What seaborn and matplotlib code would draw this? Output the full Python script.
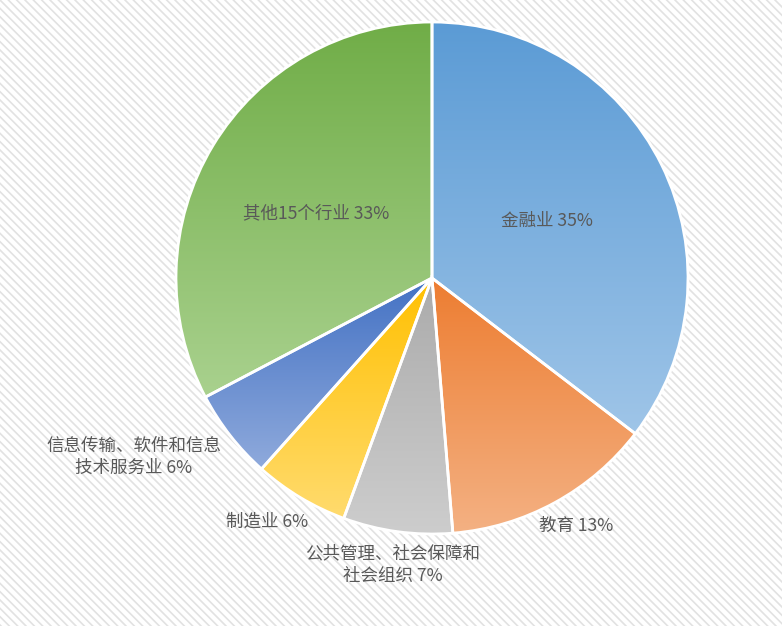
import numpy as np
import matplotlib
matplotlib.use("Agg")
import matplotlib.pyplot as plt
from matplotlib.colors import LinearSegmentedColormap
from matplotlib.patches import Rectangle
import seaborn as sns

# data (start at 12 o'clock, clockwise)
categories = ["金融业", "教育", "公共管理、社会保障和\n社会组织", "制造业",
              "信息传输、软件和信息\n技术服务业", "其他15个行业"]
shares = [35.4, 13.3, 6.9, 6.0, 5.7, 32.7]
pct_labels = ["35%", "13%", "7%", "6%", "6%", "33%"]

# gradient colours per slice (top, bottom)
top_colors = ["#5B9BD5", "#ED7D31", "#ABABAB", "#FFC000", "#4472C4", "#70AD47"]
bottom_colors = ["#9FC5E8", "#F4B183", "#CDCDCD", "#FFDB6E", "#8FAADC", "#A9D18E"]

# label placement: radial distance (x radius) and small angle nudge (deg)
label_dist = [0.50, 1.12, 1.13, 1.15, 1.36, 0.52]
label_nudge = [0, 1.5, 0, -3, -7, 2]

sns.set_style("white")
plt.rcParams["font.family"] = ["Noto Sans CJK SC", "DejaVu Sans"]
plt.rcParams["hatch.linewidth"] = 1.2

W, H = 782, 626
fig = plt.figure(figsize=(W / 100, H / 100), dpi=100)
fig.patch.set_facecolor("white")
fig.patches.append(Rectangle((0, 0), 1, 1, transform=fig.transFigure,
                             facecolor="white", edgecolor="#E2E2E2",
                             hatch="\\\\\\\\", linewidth=0, zorder=-5))

cx, cy, R = 432, 278, 256
ax = fig.add_axes([(cx - R) / W, (H - cy - R) / H, 2 * R / W, 2 * R / H])
ax.patch.set_visible(False)

wedges, _ = ax.pie(shares, startangle=90, counterclock=False, radius=1,
                   wedgeprops=dict(edgecolor="white", linewidth=2, facecolor="none"))

grad = np.linspace(0, 1, 256).reshape(-1, 1)
for w, c0, c1 in zip(wedges, top_colors, bottom_colors):
    w.set_zorder(3)
    bb = w.get_path().get_extents()
    cmap = LinearSegmentedColormap.from_list("g", [c0, c1])
    im = ax.imshow(grad, cmap=cmap, extent=[bb.x0, bb.x1, bb.y0, bb.y1],
                   origin="upper", aspect="auto", zorder=2, interpolation="bilinear")
    im.set_clip_path(w)

for w, cat, pct, d, nud in zip(wedges, categories, pct_labels, label_dist, label_nudge):
    ang = np.deg2rad((w.theta1 + w.theta2) / 2 + nud)
    ax.text(d * np.cos(ang), d * np.sin(ang), f"{cat} {pct}", ha="center", va="center",
            fontsize=12.6, color="#595959", linespacing=1.3, zorder=5)

ax.set_xlim(-1, 1)
ax.set_ylim(-1, 1)
ax.set_aspect("equal")
ax.axis("off")

fig.savefig("out.png", dpi=100)
